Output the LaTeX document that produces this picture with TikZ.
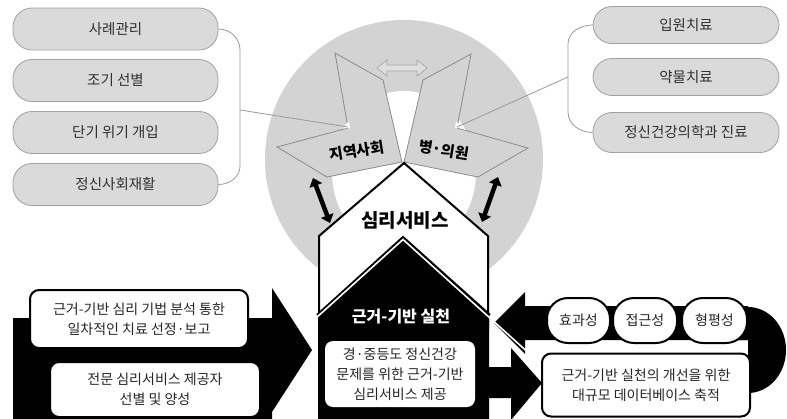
\documentclass[tikz,border=0pt]{standalone}
\usepackage{fontspec}
\setmainfont{Noto Sans CJK KR}
\usetikzlibrary{arrows.meta}
\definecolor{circ}{HTML}{D3D3D3}
\definecolor{pillgray}{HTML}{DADADA}
\definecolor{pilledge}{HTML}{A0A0A0}
\definecolor{handedge}{HTML}{8C8C8C}
\definecolor{txtgray}{HTML}{303030}
\definecolor{linegray}{HTML}{9A9A9A}
\begin{document}
\begin{tikzpicture}[x=1pt,y=-1pt,
  graypill/.style={rectangle, rounded corners=19pt, fill=pillgray, draw=pilledge, line width=0.8pt,
    font=\fontsize{14.5}{16}\selectfont, text=txtgray, inner sep=0pt},
  wbox/.style={rectangle, rounded corners=9pt, fill=white, draw=black, line width=2pt, align=center,
    font=\fontsize{14}{20}\selectfont, text=black!85, inner sep=0pt},
  wpill/.style={wbox, rounded corners=21pt},
  bracketline/.style={draw=linegray, line width=0.8pt},
  handshape/.style={fill=circ, draw=handedge, line width=0.8pt, line join=miter},
  bigdarrow/.style={line width=4.5pt, {Triangle[length=8pt,width=13pt]}-{Triangle[length=8pt,width=13pt]}}
]
\useasboundingbox (0,0) rectangle (787,418);
\clip (0,0) rectangle (787,418);
\fill[white] (0,0) rectangle (787,418);

% big gray circle and inner white region
\fill[circ] (404,159) circle (139pt);
\fill[white] (404,172) ellipse [x radius=72pt, y radius=81pt];

% left pills
\node[graypill, minimum width=205pt, minimum height=42pt] (p1) at (115.5,29) {사례관리};
\node[graypill, minimum width=205pt, minimum height=42pt] (p2) at (115.5,80.5) {조기 선별};
\node[graypill, minimum width=205pt, minimum height=42pt] (p3) at (115.5,132.5) {단기 위기 개입};
\node[graypill, minimum width=205pt, minimum height=42pt] (p4) at (115.5,184.5) {정신사회재활};

% right pills
\node[graypill, minimum width=186pt, minimum height=37pt] (q1) at (686,25) {입원치료};
\node[graypill, minimum width=186pt, minimum height=37pt] (q2) at (686,77) {약물치료};
\node[graypill, minimum width=186pt, minimum height=40pt] (q3) at (686,132.5) {정신건강의학과 진료};

% hands
\draw[handshape] (335,53) -- (383,80) -- (402,162) -- (327,177) -- (277,147) -- (348,128) -- cycle;
\draw[handshape] (471,54) -- (423,80) -- (404,162) -- (478,177) -- (528,148) -- (457,128) -- cycle;

% notch points
\coordinate (ln) at (348,127);
\coordinate (rn) at (457,127);
\fill[white] (344,128) -- (349,121) -- (350,128) -- cycle;
\fill[white] (461,128) -- (456,121) -- (455,128) -- cycle;

% brackets
\coordinate (lb) at (240,110);
\coordinate (rb) at (568,77);
\draw[bracketline] (p1.east) to[out=0,in=90] (240,50) -- (240,166) to[out=-90,in=0] (p4.east);
\draw[bracketline] (lb) -- (ln);
\draw[bracketline] (q1.west) to[out=180,in=90] (568,44) -- (568,112) to[out=-90,in=180] (q3.west);
\draw[bracketline] (rb) -- (rn);

% top outlined double arrow
\draw[fill=gray!25, draw=gray!70, line width=0.7pt]
  (377,68) -- (387,60) -- (387,65) -- (417,65) -- (417,60) -- (427,68)
  -- (417,76) -- (417,71) -- (387,71) -- (387,76) -- cycle;

% hand labels
\node[font=\bfseries\fontsize{15}{15}\selectfont, rotate=9, inner sep=0pt] (tl) at (357,151) {지역사회};
\node[font=\bfseries\fontsize{15}{15}\selectfont, rotate=-9, inner sep=0pt] (tr) at (444,150) {병·의원};

% black double arrows
\coordinate (a1) at (313,178); \coordinate (a2) at (330,223);
\coordinate (b1) at (498,177); \coordinate (b2) at (482,222);
\draw[bigdarrow] (a1) -- (a2);
\draw[bigdarrow] (b1) -- (b2);

% white pentagon
\draw[fill=white, line width=2pt, line join=miter] (404,163) -- (488,236) -- (488,330) -- (319,330) -- (319,236) -- cycle;
\node[font=\bfseries\fontsize{19}{19}\selectfont] (ps) at (405,220) {심리서비스};

% right arrows (behind the house roof line)
\fill[black] (525,292) -- (494,323) -- (525,354) -- (525,340) -- (748,340) -- (748,306) -- (525,306) -- cycle;
\fill[black] (735,307) -- (748,307) arc[start angle=90, end angle=-90, x radius=38pt, y radius=43pt] -- (735,393) -- (735,385) -- (748,385) -- (748,340) -- (735,340) -- cycle;
\fill[black] (488,367) -- (511,367) -- (511,348) -- (542,383) -- (511,420) -- (511,398) -- (488,398) -- cycle;

% black house
\fill[black] (318,420) -- (318,316) -- (403,239) -- (489,316) -- (489,420) -- cycle;
\draw[black, line width=5pt, line join=miter] (318,316) -- (403,239) -- (489,316);
\draw[white, line width=1.6pt, line join=miter] (316,318) -- (403,239.5) -- (532,356);
\node[font=\bfseries\fontsize{16}{16}\selectfont, text=white] (hb) at (401,317) {근거-기반 실천};
\node[wbox, draw=none, rounded corners=8pt, minimum width=150pt, minimum height=66pt,
  font=\fontsize{14}{20}\selectfont] (hbox) at (400,374) {경·중등도 정신건강\\문제를 위한 근거-기반\\심리서비스 제공};

% left big arrow
\fill[black] (13,318) -- (272,318) -- (272,288) -- (312,350) -- (272,412) -- (272,420) -- (13,420) -- cycle;
\node[wbox, minimum width=218pt, minimum height=58pt] (lb1) at (139,319) {근거-기반 심리 기법 분석 통한\\일차적인 치료 선정·보고};
\node[wbox, minimum width=210pt, minimum height=55pt] (lb2) at (155,389.5) {전문 심리서비스 제공자\\선별 및 양성};

% right boxes
\node[wpill, minimum width=63pt, minimum height=45pt] (e1) at (578.5,320.5) {효과성};
\node[wpill, minimum width=64pt, minimum height=45pt] (e2) at (645,320.5) {접근성};
\node[wpill, minimum width=65pt, minimum height=45pt] (e3) at (714.5,320.5) {형평성};
\node[wbox, minimum width=208pt, minimum height=63pt] (rbox) at (646,385) {근거-기반 실천의 개선을 위한\\대규모 데이터베이스 축적};
\end{tikzpicture}
\end{document}
